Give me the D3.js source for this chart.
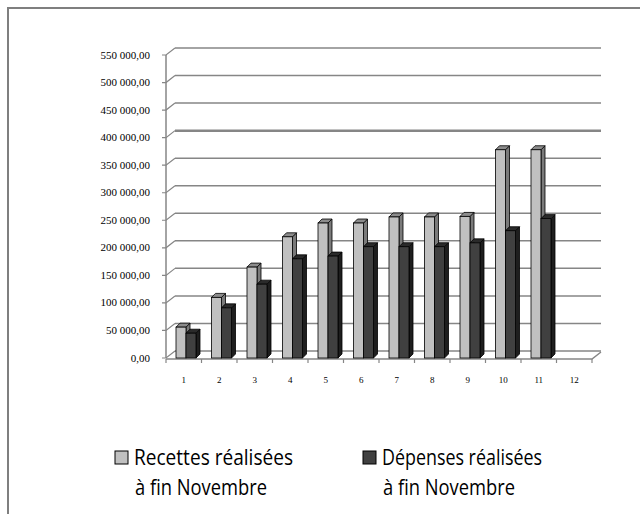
<!DOCTYPE html>
<html>
<head>
<meta charset="utf-8">
<script src="https://cdn.jsdelivr.net/npm/d3@7"></script>
<style>
  body { margin: 0; background: #fff; }
</style>
</head>
<body>
<svg id="chart" width="640" height="514"></svg>
<script>
// month numbers, 12 has no data yet
var categories = ["1","2","3","4","5","6","7","8","9","10","11","12"];
var recettes = [56000, 110000, 165000, 220000, 245000, 245000, 256000, 256000, 257000, 378000, 378000, null];
var depenses = [45000, 91000, 134000, 180000, 185000, 202000, 202000, 202000, 209000, 231000, 253000, null];
var yTicks = d3.range(0, 550001, 50000);
var legendLines = [["Recettes réalisées", "à fin Novembre"], ["Dépenses réalisées", "à fin Novembre"]];

var svg = d3.select("#chart");

// outer frame
svg.append("rect")
  .attr("x", 8).attr("y", 8).attr("width", 660).attr("height", 540)
  .attr("fill", "none").attr("stroke", "#7f7f7f").attr("stroke-width", 2);

var x0 = 166, x1 = 592;
var dx = 9, dy = -7;       // wall depth
var bdx = 4, bdy = -4;     // bar depth

var x = d3.scaleBand().domain(categories).range([x0, x1]);
var y = d3.scaleLinear().domain([0, 550000]).range([358, 55]);

var grid = svg.append("g");
var gridColor = "#868686";

// back wall gridlines + diagonals
yTicks.forEach(function(v){
  var yy = y(v);
  grid.append("line")
    .attr("x1", x0 + dx).attr("x2", x1 + dx)
    .attr("y1", yy + dy).attr("y2", yy + dy)
    .attr("stroke", gridColor).attr("stroke-width", v == 400000 ? 2.5 : 1.5);
  grid.append("path")
    .attr("d", "M" + (x0 - 4) + "," + yy + "L" + x0 + "," + yy + "L" + (x0 + dx) + "," + (yy + dy))
    .attr("fill", "none").attr("stroke", gridColor).attr("stroke-width", 1.2);
});

// front vertical axis
grid.append("line")
  .attr("x1", x0).attr("x2", x0).attr("y1", y(0)).attr("y2", y(550000))
  .attr("stroke", gridColor).attr("stroke-width", 1.5);

// floor
var fy = y(0) + 1;
grid.append("path")
  .attr("d", "M" + x0 + "," + fy + "L" + x1 + "," + fy + "L" + (x1 + dx) + "," + (fy + dy))
  .attr("fill", "none").attr("stroke", gridColor).attr("stroke-width", 1.5);
d3.range(categories.length + 1).forEach(function(k){
  var tx = x0 + k * x.bandwidth();
  grid.append("line")
    .attr("x1", tx).attr("x2", tx).attr("y1", fy).attr("y2", fy + 4)
    .attr("stroke", gridColor).attr("stroke-width", 1.2);
});

// y labels
svg.append("g").selectAll("text").data(yTicks).enter().append("text")
  .attr("x", 150).attr("y", function(d){ return y(d) + 3.5; })
  .attr("text-anchor", "end")
  .attr("font-family", "Liberation Serif").attr("font-size", 11)
  .text(function(d){ return d3.format(",.2f")(d).replace(/,/g, " ").replace(".", ","); });

// x labels
svg.append("g").selectAll("text").data(categories).enter().append("text")
  .attr("x", function(d){ return x(d) + x.bandwidth() / 2; })
  .attr("y", 383)
  .attr("text-anchor", "middle")
  .attr("font-family", "Liberation Serif").attr("font-size", 9)
  .text(function(d){ return d; });

// 3D bars
function drawBars(values, offset, front, side, top){
  var g = svg.append("g");
  values.forEach(function(v, i){
    if (v == null) return;
    var bx = x(categories[i]) + 10 + offset, bw = 10;
    var by = y(v), bb = y(0);
    g.append("path")
      .attr("d", "M" + (bx + bw) + "," + bb + "L" + (bx + bw + bdx) + "," + (bb + bdy) +
                 "L" + (bx + bw + bdx) + "," + (by + bdy) + "L" + (bx + bw) + "," + by + "Z")
      .attr("fill", side).attr("stroke", "#000").attr("stroke-width", 0.8);
    g.append("path")
      .attr("d", "M" + bx + "," + by + "L" + (bx + bdx) + "," + (by + bdy) +
                 "L" + (bx + bw + bdx) + "," + (by + bdy) + "L" + (bx + bw) + "," + by + "Z")
      .attr("fill", top).attr("stroke", "#000").attr("stroke-width", 0.8);
    g.append("rect")
      .attr("x", bx).attr("y", by).attr("width", bw).attr("height", bb - by)
      .attr("fill", front).attr("stroke", "#000").attr("stroke-width", 0.8);
  });
}
drawBars(recettes, 0, "#c0c0c0", "#7a7a7a", "#8c8c8c");
drawBars(depenses, 10, "#404040", "#1e1e1e", "#2a2a2a");

// legend
var legend = svg.append("g");
var lx = [115, 363], fills = ["#c0c0c0", "#404040"];
var lens = [[159, 132], [160, 132]];
legendLines.forEach(function(lines, i){
  legend.append("rect")
    .attr("x", lx[i]).attr("y", 451).attr("width", 13).attr("height", 13)
    .attr("fill", fills[i]).attr("stroke", "#000").attr("stroke-width", 1);
  lines.forEach(function(t, j){
    legend.append("text")
      .attr("x", lx[i] + 19 + j).attr("y", 465 + j * 30)
      .attr("font-family", "Open Sans").attr("font-size", 21)
      .attr("textLength", lens[i][j]).attr("lengthAdjust", "spacingAndGlyphs")
      .attr("fill", "#000")
      .text(t);
  });
});
</script>
</body>
</html>
